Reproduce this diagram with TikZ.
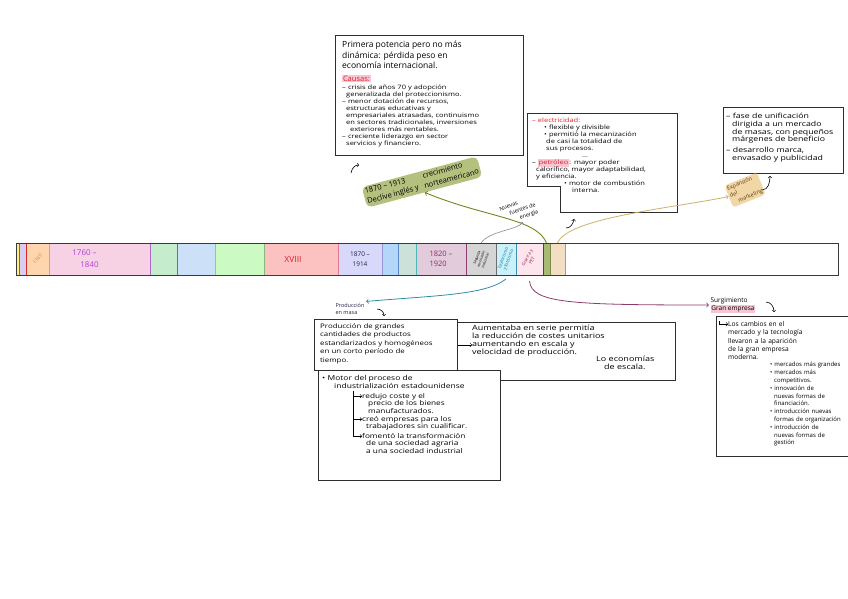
\documentclass[tikz,border=0pt]{standalone}
\usepackage{fontspec}
\setmainfont{Open Sans}
\newfontfamily\widehand[FakeStretch=1.25]{Open Sans}
\usepackage{tikz}
\usetikzlibrary{positioning}
\setlength{\fboxsep}{0.8pt}

\definecolor{boxline}{HTML}{2E2E2E}
\definecolor{barline}{HTML}{3A3A3A}
\definecolor{redtxt}{HTML}{E0202A}
\definecolor{pinkhl}{HTML}{F8C6D2}
\definecolor{olivehl}{HTML}{B4C07E}
\definecolor{tanhl}{HTML}{F1D7A6}
\definecolor{olivearrow}{HTML}{6E8A1E}
\definecolor{tanarrow}{HTML}{CDB06A}
\definecolor{tealarrow}{HTML}{2F8EA6}
\definecolor{plumarrow}{HTML}{8E3A6E}
\definecolor{grayarrow}{HTML}{8A8A8A}
\definecolor{segyel}{HTML}{FFF07A}
\definecolor{seglav}{HTML}{D8CCF3}
\definecolor{segpeach}{HTML}{FDD5AE}
\definecolor{segpink}{HTML}{F7D2E5}
\definecolor{seggreen}{HTML}{C5ECCD}
\definecolor{segblue}{HTML}{CCE1F7}
\definecolor{seglime}{HTML}{CBFBC3}
\definecolor{segsalmon}{HTML}{FCC2C2}
\definecolor{segperi}{HTML}{D8D8FA}
\definecolor{segsky}{HTML}{B4D6F9}
\definecolor{segsage}{HTML}{CBE1D9}
\definecolor{segmauve}{HTML}{E2CCDB}
\definecolor{seggray}{HTML}{D5D5D5}
\definecolor{segcyan}{HTML}{CAF0FA}
\definecolor{segrose}{HTML}{FCE5ED}
\definecolor{segolive}{HTML}{A9BA75}
\definecolor{segtan}{HTML}{F1DEC3}
\definecolor{edgegray}{HTML}{6E6E6E}
\definecolor{edgered}{HTML}{D42A2A}
\definecolor{edgeorange}{HTML}{F2A050}
\definecolor{edgepurple}{HTML}{B066CC}
\definecolor{edgegreen}{HTML}{3E8E60}
\definecolor{edgeblue}{HTML}{8CBBE6}
\definecolor{edgelime}{HTML}{8DB57C}
\definecolor{edgesalmon}{HTML}{E07A92}
\definecolor{edgeperi}{HTML}{9A96D6}
\definecolor{edgesky}{HTML}{5C8CC7}
\definecolor{edgeteal}{HTML}{4DB8B8}
\definecolor{edgemauve}{HTML}{8E3F6E}
\definecolor{edgecyan}{HTML}{3D8FB0}
\definecolor{edgerose}{HTML}{8C2452}
\definecolor{edgeolive}{HTML}{7C8C48}
\definecolor{edgetan}{HTML}{B89A5C}
\definecolor{yearorange}{HTML}{E8892A}
\definecolor{purpletxt}{HTML}{B040D8}
\definecolor{navytxt}{HTML}{23234A}
\definecolor{mauvetxt}{HTML}{8E2A6E}
\definecolor{tealtxt}{HTML}{137F99}
\definecolor{rosetxt}{HTML}{9A2050}
\definecolor{browntxt}{HTML}{5A3A10}

\tikzset{
  frame/.style={draw=boxline, line width=0.9pt, fill=white, anchor=north west, inner sep=0pt},
  txt/.style={anchor=north west, align=left, inner sep=0pt, text width=#1, font=\fontsize{6.2}{6.8}\selectfont},
  seg/.style={fill=#1, anchor=west, minimum height=32pt, inner sep=0pt, outer sep=0pt},
  tag/.style={align=left, inner sep=1.5pt, font=\fontsize{5.5}{7.5}\selectfont},
}

\begin{document}
\begin{tikzpicture}[x=1pt, y=-1pt]
  \useasboundingbox (0,0) rectangle (848,598);

  \node[seg=segyel, minimum width=3pt] (syel) at (16,259) {};
  \node[seg=seglav, minimum width=7pt] (slav) at (19,259) {};
  \node[seg=segpeach, minimum width=23pt] (s1760) at (26,259) {};
  \node[seg=segpink, minimum width=101pt] (sind) at (49,259) {};
  \node[seg=seggreen, minimum width=27pt] (sgreen) at (150,259) {};
  \node[seg=segblue, minimum width=38pt] (sblue) at (177,259) {};
  \node[seg=seglime, minimum width=49pt] (slime) at (215,259) {};
  \node[seg=segsalmon, minimum width=74pt] (sxviii) at (264,259) {};
  \node[seg=segperi, minimum width=44pt] (s1870) at (338,259) {};
  \node[seg=segsky, minimum width=16pt] (ssky) at (382,259) {};
  \node[seg=segsage, minimum width=18pt] (ssage) at (398,259) {};
  \node[seg=segmauve, minimum width=50pt] (s1820) at (416,259) {};
  \node[seg=seggray, minimum width=30pt] (srev) at (466,259) {};
  \node[seg=segcyan, minimum width=20pt] (staylor) at (496,259) {};
  \node[seg=segrose, minimum width=27pt] (sguerra) at (516,259) {};
  \node[seg=segolive, minimum width=7pt] (solive) at (543,259) {};
  \node[seg=segtan, minimum width=15pt] (stan) at (550,259) {};
  \foreach \s/\c in {syel/edgegray, slav/edgered, s1760/edgeorange, sind/edgepurple,
      sgreen/edgegreen, sblue/edgeblue, slime/edgelime, sxviii/edgesalmon, s1870/edgeperi,
      ssky/edgesky, ssage/edgeteal, s1820/edgemauve, srev/edgegray, staylor/edgecyan,
      sguerra/edgerose, solive/edgeolive, stan/edgetan}
    \draw[\c, line width=0.8pt] (\s.north east) -- (\s.south east);
  \node[draw=barline, line width=1pt, anchor=west, minimum width=822pt, minimum height=32pt, inner sep=0pt] (bar) at (16,259) {};

  \node[rotate=50, text=yearorange, inner sep=0pt, font=\fontsize{5}{5}\selectfont] (t1760) at (s1760) {1760};
  \node[text=purpletxt, align=left, font=\fontsize{8}{12}\selectfont] (tind) at ([xshift=-14pt]sind.center) {1760 –\\ \hspace*{8pt}1840};
  \node[text=redtxt, font=\fontsize{8.5}{9}\selectfont] (txviii) at ([xshift=-8pt]sxviii.center) {XVIII};
  \node[text=navytxt, align=center, font=\fontsize{6.5}{10}\selectfont] (t1870) at (s1870) {1870 –\\ 1914};
  \node[text=mauvetxt, align=left, font=\fontsize{7.5}{10.5}\selectfont] (t1820) at (s1820) {1820 –\\ 1920};
  \node[rotate=70, align=center, inner sep=0pt, font=\fontsize{3.5}{4.5}\selectfont] (trev) at (srev) {Segunda\\ revolución\\ industrial};
  \node[rotate=70, text=tealtxt, align=center, inner sep=0pt, font=\fontsize{4.5}{5.5}\selectfont] (ttaylor) at (staylor) {Taylorismo\\ y fordismo};
  \node[rotate=60, text=rosetxt, align=center, inner sep=0pt, font=\fontsize{4.5}{5.5}\selectfont] (tguerra) at (sguerra) {Guerra y\\ PET};

  \node[frame, minimum width=188pt, minimum height=120pt] (potencia) at (335,35) {};
  \node[txt=178pt] (potenciatxt) at ([shift={(7pt,-6pt)}]potencia.north west) {
    {\fontsize{8.5}{10.5}\selectfont Primera potencia pero no más\\ dinámica: pérdida peso en\\ economía internacional.\par}
    \vspace{6pt}
    {\colorbox{pinkhl}{\textcolor{redtxt}{\fontsize{7.5}{8}\selectfont Causas:}}\par}
    \vspace{1pt}
    {\widehand\fontsize{6}{7}\selectfont
    – crisis de años 70 y adopción\\
    \hspace*{4pt}generalizada del proteccionismo.\\
    – menor dotación de recursos,\\
    \hspace*{4pt}estructuras educativas y\\
    \hspace*{4pt}empresariales atrasadas, continuismo\\
    \hspace*{4pt}en sectores tradicionales, inversiones\\
    \hspace*{8pt}exteriores más rentables.\\
    – creciente liderazgo en sector\\
    \hspace*{4pt}servicios y financiero.\par}};

  \draw[boxline, line width=0.9pt, fill=white] (527,113) -- (677,113) -- (677,212) -- (560,212) -- (560,186) -- (527,186) -- cycle;
  \node[txt=143pt, font=\widehand\fontsize{6}{7}\selectfont] (elec) at (532,118) {
    \textcolor{redtxt}{– electricidad:}\\
    \hspace*{12pt}• flexible y divisible\\
    \hspace*{12pt}• permitió la mecanización\\
    \hspace*{14pt}de casi la totalidad de\\
    \hspace*{14pt}sus procesos.\\
    \hspace*{50pt}…\\
    – \colorbox{pinkhl}{\textcolor{redtxt}{petróleo}}: mayor poder\\
    \hspace*{4pt}calorífico, mayor adaptabilidad,\\
    \hspace*{4pt}y eficiencia.\\
    \hspace*{32pt}• motor de combustión\\
    \hspace*{40pt}interna.};

  \node[frame, minimum width=120pt, minimum height=66pt] (marketing) at (723,107) {};
  \node[txt=112pt, font=\widehand\fontsize{7}{7.8}\selectfont] (marketingtxt) at ([shift={(3pt,-6pt)}]marketing.north west) {
    – fase de unificación\\
    \hspace*{6pt}dirigida a un mercado\\
    \hspace*{6pt}de masas, con pequeños\\
    \hspace*{6pt}márgenes de beneficio\\[3pt]
    – desarrollo marca,\\
    \hspace*{6pt}envasado y publicidad};

  \node[rotate=15, fill=olivehl, rounded corners=5pt, inner sep=2pt, align=left, font=\fontsize{7.5}{10}\selectfont] (decl) at (422,182)
    {1870 – 1913 \hspace{14pt} crecimiento\\ Declive inglés y \hspace{2pt} norteamericano};
  \node[rotate=20, tag] (fuentes) at (519,211) {Nuevas\\ \hspace*{8pt}fuentes de\\ \hspace*{16pt}energía};
  \node[rotate=22, tag, fill=tanhl, text=browntxt, rounded corners=3pt] (mkt) at (745,190) {Expansión\\ del\\ \hspace*{6pt}marketing};
  \node[tag, text=navytxt] (prodmasa) at (350,309) {Producción\\ en masa};
  \node[tag, font=\fontsize{6.5}{8}\selectfont] (gran) at (733,305) {Surgimiento\\ \colorbox{pinkhl}{Gran empresa}};

  \node[frame, minimum width=230pt, minimum height=58pt] (aumenta) at (445,322) {};
  \node[txt=200pt, font=\widehand\fontsize{7.2}{7.8}\selectfont] (aumentatxt) at (472,325) {
    Aumentaba en serie permitía\\
    la reducción de costes unitarios\\
    aumentando en escala y\\
    velocidad de producción.\\
    \hspace*{124pt}Lo economías\\
    \hspace*{132pt}de escala.};
  \node[frame, minimum width=143pt, minimum height=51pt] (masa) at (314,319) {};
  \node[txt=135pt, font=\widehand\fontsize{6.3}{8.5}\selectfont] (masatxt) at ([shift={(6pt,-4pt)}]masa.north west) {
    Producción de grandes\\
    cantidades de productos\\
    estandarizados y homogéneos\\
    en un corto período de\\
    tiempo.};
  \node[frame, minimum width=182pt, minimum height=110pt] (motor) at (318,370) {};
  \node[txt=175pt, font=\widehand\fontsize{6.8}{7.8}\selectfont] (motortxt) at (322,375) {
    • Motor del proceso de\\
    \hspace*{12pt}industrialización estadounidense};
  \node[txt=135pt, font=\widehand\fontsize{6.6}{7.4}\selectfont] (coste) at (362,393) {
    redujo coste y el\\ \hspace*{6pt}precio de los bienes\\ \hspace*{6pt}manufacturados.};
  \node[txt=135pt, font=\widehand\fontsize{6.6}{7.4}\selectfont] (empresas) at (362,416) {
    creó empresas para los\\ \hspace*{4pt}trabajadores sin cualificar.};
  \node[txt=135pt, font=\widehand\fontsize{6.6}{7.4}\selectfont] (transf) at (362,433) {
    fomentó la transformación\\ \hspace*{4pt}de una sociedad agraria\\ \hspace*{4pt}a una sociedad industrial};

  \node[frame, minimum width=145pt, minimum height=140pt] (gempresa) at (716,316) {};
  \node[txt=118pt, font=\fontsize{6.6}{8.4}\selectfont] (cambios) at (728,321) {
    Los cambios en el\\
    mercado y la tecnología\\
    llevaron a la aparición\\
    de la gran empresa\\
    moderna.};
  \node[txt=76pt, font=\fontsize{6}{7.8}\selectfont] (rasgos) at (770,362) {
    • mercados más grandes\\
    • mercados más\\
    \hspace*{4pt}competitivos.\\
    • innovación de\\
    \hspace*{4pt}nuevas formas de\\
    \hspace*{4pt}financiación.\\
    • introducción nuevas\\
    \hspace*{4pt}formas de organización\\
    • introducción de\\
    \hspace*{4pt}nuevas formas de\\
    \hspace*{4pt}gestión};

  \coordinate (ltrunk) at (353,391);
  \coordinate (gtrunk) at (719,321);
  \coordinate (hookA) at (351,173);
  \coordinate (hookB) at (359,165);
  \coordinate (elecA) at (566,228);
  \coordinate (elecB) at (574,219);
  \coordinate (mktA) at (762,190);
  \coordinate (mktB) at (770,176);
  \coordinate (masaA) at (377,309);
  \coordinate (masaB) at (384,316);
  \coordinate (granA) at (766,302);
  \coordinate (granB) at (774,312);

  \draw[->, olivearrow, line width=0.9pt] (solive.north) .. controls +(-10,-25) and +(60,25) .. (decl.south);
  \draw[->, grayarrow, line width=0.6pt] (srev.north) .. controls +(8,-12) and +(-6,8) .. (fuentes.south);
  \draw[->, tanarrow, line width=0.8pt] (stan.north) .. controls +(10,-25) and +(-60,12) .. (mkt.west);
  \draw[->, tealarrow, line width=0.8pt] ([yshift=-4pt]staylor.south) .. controls +(-20,16) and +(70,-6) .. (prodmasa.north east);
  \draw[->, plumarrow, line width=0.8pt] ([yshift=-6pt]sguerra.south) .. controls +(2,22) and +(-140,0) .. (gran.west);
  \draw[->, line width=0.6pt] (masa.east) -- (aumentatxt.west |- masa.east);
  \foreach \i in {coste, empresas, transf}
    \draw[->, line width=0.6pt] (ltrunk) |- ([yshift=2pt]\i.base west);
  \draw[->, line width=0.6pt] (gtrunk) |- ([yshift=2pt]cambios.base west);
  \draw[->, line width=0.6pt] (hookA) to[out=80, in=180] (hookB);
  \draw[->, line width=0.6pt] (elecA) to[out=0, in=-100] (elecB);
  \draw[->, line width=0.6pt] (mktA) to[out=0, in=-90] (mktB);
  \draw[->, line width=0.6pt] (masaA) to[out=0, in=90] (masaB);
  \draw[->, line width=0.6pt] (granA) to[out=0, in=90] (granB);
\end{tikzpicture}
\end{document}
